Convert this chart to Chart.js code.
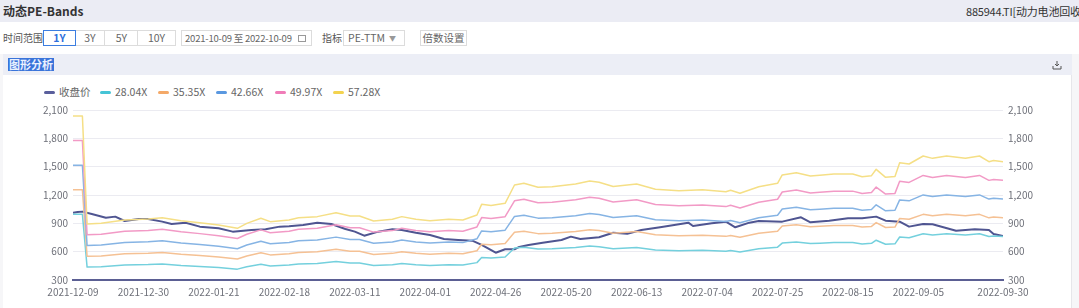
<!DOCTYPE html>
<html>
<head>
<meta charset="utf-8">
<script src="https://cdn.jsdelivr.net/npm/chart.js@4.4.0/dist/chart.umd.min.js"></script>
<style>
  body { margin: 0; width: 1079px; height: 308px; overflow: hidden; background: #f6f6f8;
         font-family: "Noto Sans CJK SC", "Noto Sans", sans-serif; position: relative; }
  .abs { position: absolute; }
  .top { left: 0; top: 0; width: 1079px; height: 22px; background: #ebecf4; }
  .title { left: 3px; top: 0; line-height: 22px; font-size: 12px; font-weight: bold; color: #333; }
  .code { left: 966px; top: 0; line-height: 22px; font-size: 11px; letter-spacing: -0.2px; color: #333; white-space: nowrap; }
  .row { left: 0; top: 22px; width: 1079px; height: 32px; background: #fff; }
  .lbl { font-size: 10px; color: #555; line-height: 16px; top: 30px; }
  .btn { top: 30px; height: 14px; line-height: 14px; border: 1px solid #dcdcdc; font-size: 10.5px;
         color: #666; text-align: center; background: #fff; white-space: nowrap; }
  .btn.on { border-color: #3b7de0; color: #2f6fdc; font-weight: bold; z-index: 2; }
  .sect { left: 3px; top: 54px; width: 1069px; height: 21px; background: #eceef6; }
  .hl { left: 8px; top: 58px; height: 13px; line-height: 13px; padding: 0 1px; font-size: 11px;
        font-weight: bold; color: #eaf1ff; background: #3a74da; }
  .card { left: 3px; top: 75px; width: 1068px; height: 233px; background: #fff; border-right: 1px solid #e6e6ea; }
  .legend { left: 44px; top: 84px; height: 16px; font-size: 10.5px; color: #666; }
  .item { position: absolute; top: 0; white-space: nowrap; line-height: 16px; }
  .item i { display: inline-block; width: 11px; height: 3px; border-radius: 2px; vertical-align: middle;
            margin-right: 4px; position: relative; top: -1px; }
  canvas { position: absolute; left: 0; top: 75px; }
</style>
</head>
<body>
<div class="abs top"></div>
<div class="abs title">动态PE-Bands</div>
<div class="abs code">885944.TI[动力电池回收]</div>
<div class="abs row"></div>
<div class="abs lbl" style="left:3px">时间范围</div>
<div class="abs btn on" style="left:43px;width:31px">1Y</div>
<div class="abs btn" style="left:74px;width:30px">3Y</div>
<div class="abs btn" style="left:104px;width:33px">5Y</div>
<div class="abs btn" style="left:137px;width:37px">10Y</div>
<div class="abs btn" style="left:181px;width:131px;text-align:left;padding-left:3px;box-sizing:border-box;height:16px;font-size:9.5px;letter-spacing:-0.2px">2021-10-09 至 2022-10-09
  <span style="position:absolute;right:5px;top:4px;width:6px;height:5px;border:1px solid #999"></span></div>
<div class="abs lbl" style="left:322px">指标</div>
<div class="abs btn" style="left:343px;width:62px;text-align:left;padding-left:4px;box-sizing:border-box;height:16px">PE-TTM<span style="position:absolute;right:8px;font-size:7px;color:#999">▼</span></div>
<div class="abs btn" style="left:420px;width:45px">倍数设置</div>
<div class="abs sect"></div>
<div class="abs hl">图形分析</div>
<svg class="abs" style="left:1052px;top:60px" width="10" height="10" viewBox="0 0 10 10">
  <path d="M5 1 V6 M3 4 L5 6 L7 4 M1 6 V9 H9 V6" stroke="#555" stroke-width="1" fill="none"/>
</svg>
<div class="abs card"></div>
<div class="abs legend" id="legend"></div>
<canvas id="peChart" width="1079" height="233"></canvas>
<script>
  const seriesNames = ["收盘价", "28.04X", "35.35X", "42.66X", "49.97X", "57.28X"];
  const seriesColors = ["#4f5591", "#74d0dd", "#f5c194", "#86b4e4", "#f29ac6", "#f5df86"];
  const legendColors = ["#5a5f9c", "#45c4d6", "#f4a968", "#5a98e0", "#f07cb8", "#f3d34f"];
  const legendLeft = [0, 56, 114, 172, 231, 289];

  const tickIdx = [0, 15, 30, 45, 60, 75, 90, 105, 120, 135, 150, 165, 180, 198];
  const tickDates = ["2021-12-09", "2021-12-30", "2022-01-21", "2022-02-18", "2022-03-11", "2022-04-01",
    "2022-04-26", "2022-05-20", "2022-06-13", "2022-07-04", "2022-07-25", "2022-08-15", "2022-09-05", "2022-09-30"];

  const closeIdx = [0,1,2,4,7,9,11,14,16,19,21,24,27,31,34,38,41,44,46,49,52,55,58,60,62,65,68,70,73,76,
    79,82,85,87,90,92,94,95,97,100,104,106,108,112,115,118,121,125,131,132,136,139,141,144,146,151,155,157,
    161,165,168,171,173,176,178,181,183,188,192,195,196,198];
  const closePrice = [1013,1020,1024,999,960,971,925,946,946,918,893,907,865,847,812,829,837,865,870,882,
    907,893,840,812,769,812,837,830,801,776,734,724,716,671,589,625,625,650,670,695,724,759,735,752,801,
    790,829,858,907,872,900,918,858,907,925,918,964,911,928,953,953,971,928,918,865,893,890,822,837,830,787,766];

  const bandIdx = [0,2,3,6,11,16,19,23,27,31,35,37,40,42,46,48,52,56,59,61,64,68,70,73,76,80,83,86,87,89,
    92,94,96,99,102,107,110,112,115,120,124,129,134,139,140,142,146,150,151,154,157,159,162,166,168,170,
    171,173,175,176,178,181,183,186,190,193,195,196,198];
  const band28 = [997,997,437,441,458,463,470,454,444,432,415,441,466,449,458,470,475,496,479,479,453,462,
    475,462,454,462,458,484,539,534,544,639,648,628,630,645,660,653,631,645,617,610,614,605,612,596,630,648,
    691,703,686,690,696,696,682,688,721,679,683,755,748,790,777,790,777,790,760,766,760];
  const band35 = [1256,1256,551,555,577,584,592,573,560,544,523,555,588,566,577,592,599,625,604,604,571,582,
    599,582,573,582,577,610,679,673,686,806,817,791,795,813,832,824,796,813,778,769,774,762,771,752,795,817,
    871,886,865,870,878,878,860,867,908,856,861,952,943,995,980,995,980,995,958,966,958];
  const band42 = [1516,1516,665,670,696,705,715,691,676,657,631,670,710,684,696,715,723,754,728,728,689,702,
    723,702,691,702,696,736,820,812,828,973,986,955,959,981,1004,994,961,981,938,928,935,920,931,907,959,986,
    1052,1070,1043,1050,1059,1059,1038,1046,1096,1033,1039,1148,1138,1201,1183,1201,1183,1201,1157,1166,1157];
  const band49 = [1776,1776,779,785,816,825,838,810,791,769,739,785,831,801,816,838,847,884,853,853,807,823,
    847,823,810,823,816,862,961,951,970,1139,1155,1118,1124,1149,1176,1165,1125,1149,1099,1087,1095,1077,1091,
    1063,1124,1155,1232,1253,1222,1230,1241,1241,1216,1226,1284,1210,1217,1345,1333,1407,1385,1407,1385,1407,
    1355,1365,1355];
  const band57 = [2036,2036,893,900,935,946,960,928,907,882,847,900,953,918,935,960,971,1013,978,978,925,943,
    971,943,928,943,935,988,1101,1090,1112,1306,1324,1282,1288,1317,1348,1335,1290,1317,1260,1246,1255,1235,
    1250,1218,1288,1324,1412,1436,1401,1410,1422,1422,1394,1405,1472,1387,1395,1542,1528,1613,1588,1613,1588,
    1613,1553,1565,1553];

  const yMin = 300, yMax = 2100, yStep = 300;

  const legend = document.getElementById("legend");
  seriesNames.forEach((name, i) => {
    const el = document.createElement("div");
    el.className = "item";
    el.style.left = legendLeft[i] + "px";
    el.innerHTML = `<i style="background:${legendColors[i]}"></i>${name}`;
    legend.appendChild(el);
  });

  const toPoints = (xs, ys) => xs.map((x, i) => ({ x, y: ys[i] }));
  const bands = [band28, band35, band42, band49, band57];

  const datasets = [
    { label: seriesNames[0], data: toPoints(closeIdx, closePrice), borderColor: seriesColors[0], borderWidth: 2 },
    ...bands.map((b, i) => ({
      label: seriesNames[i + 1], data: toPoints(bandIdx, b), borderColor: seriesColors[i + 1], borderWidth: 1.5
    }))
  ].reverse();

  const tickFont = { family: '"Noto Sans CJK SC", "Noto Sans", sans-serif', size: 10 };

  const ctx = document.getElementById("peChart").getContext("2d");
  const chart = new Chart(ctx, {
    type: "line",
    data: { datasets },
    options: {
      responsive: false,
      animation: false,
      layout: { padding: { top: 35, left: 0, right: 0, bottom: 0 } },
      elements: { point: { radius: 0 }, line: { tension: 0, borderJoinStyle: "round" } },
      plugins: { legend: { display: false }, tooltip: { enabled: false } },
      scales: {
        x: {
          type: "linear",
          min: 0,
          max: 198,
          grid: { display: false },
          border: { display: true, color: "#5b5f93", width: 2 },
          afterBuildTicks: axis => { axis.ticks = tickIdx.map(value => ({ value })); },
          afterFit: axis => { axis.height = 28; },
          ticks: {
            autoSkip: false,
            maxRotation: 0,
            padding: -2,
            color: "#6e7079",
            font: tickFont,
            callback: v => tickDates[tickIdx.indexOf(v)]
          }
        },
        y: {
          position: "left",
          min: yMin,
          max: yMax,
          afterFit: axis => { axis.width = 73; },
          grid: { color: "#ebebf1", drawTicks: false },
          border: { display: false },
          ticks: { stepSize: yStep, padding: 5, color: "#6e7079", font: tickFont }
        },
        y1: {
          position: "right",
          min: yMin,
          max: yMax,
          afterFit: axis => { axis.width = 76; },
          grid: { display: false, drawTicks: false },
          border: { display: false },
          ticks: { stepSize: yStep, padding: 5, color: "#6e7079", font: tickFont }
        }
      }
    }
  });
</script>
</body>
</html>
